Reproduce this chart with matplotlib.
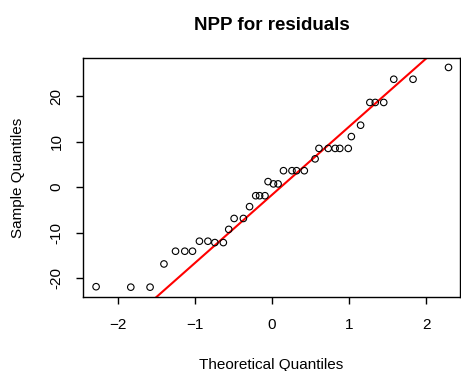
# npp_residuals.py
# Normal probability plot of residuals, R-style (qqnorm + qqline look).

import matplotlib
matplotlib.use("Agg")
import matplotlib.pyplot as plt

plt.rcParams["font.family"] = ["Liberation Sans", "DejaVu Sans"]

# theoretical quantiles (x) and sample quantiles (y)
theo = [-2.28, -1.83, -1.58, -1.40, -1.25, -1.13, -1.03, -0.94, -0.83, -0.74,
        -0.63, -0.56, -0.49, -0.37, -0.29, -0.21, -0.16, -0.09, -0.05, 0.02,
        0.08, 0.15, 0.26, 0.32, 0.42, 0.56, 0.61, 0.73, 0.82, 0.88,
        0.99, 1.03, 1.15, 1.27, 1.34, 1.45, 1.58, 1.83, 2.29]
sample = [-21.9, -22.0, -22.0, -16.9, -14.1, -14.1, -14.1, -11.9, -11.9, -12.2,
          -12.2, -9.3, -6.9, -6.9, -4.3, -1.9, -1.9, -1.9, 1.2, 0.7,
          0.7, 3.6, 3.6, 3.6, 3.6, 6.2, 8.5, 8.5, 8.5, 8.5,
          8.5, 11.1, 13.6, 18.6, 18.6, 18.6, 23.7, 23.7, 26.3]

# qqline (through the quartiles)
line_icpt = -1.72
line_slope = 14.99

x_ticks = [-2, -1, 0, 1, 2]
y_ticks = [-20, -10, 0, 10, 20]

fig = plt.figure(figsize=(4.61, 3.71), dpi=100)
ax = fig.add_axes([0.180, 0.199, 0.818, 0.645])

ax.scatter(theo, sample, s=22, facecolors="none", edgecolors="black",
           linewidths=0.8, zorder=3)
ax.axline((0, line_icpt), slope=line_slope, color="red", linewidth=1.5, zorder=2)

ax.set_xlim(-2.45, 2.44)
ax.set_ylim(-24.2, 28.4)
ax.set_xticks(x_ticks)
ax.set_yticks(y_ticks)
ax.set_yticklabels([str(v) for v in y_ticks], rotation=90, va="center")
ax.tick_params(direction="out", length=5, width=1, labelsize=11, pad=10)
ax.tick_params(axis="y", pad=9)

for sp in ax.spines.values():
    sp.set_linewidth(1.0)

ax.set_title("NPP for residuals", fontsize=13.5, fontweight="bold", pad=20)
ax.set_xlabel("Theoretical Quantiles", fontsize=11, labelpad=19)
ax.set_ylabel("Sample Quantiles", fontsize=11, labelpad=18)

fig.savefig("out.png", dpi=100)
